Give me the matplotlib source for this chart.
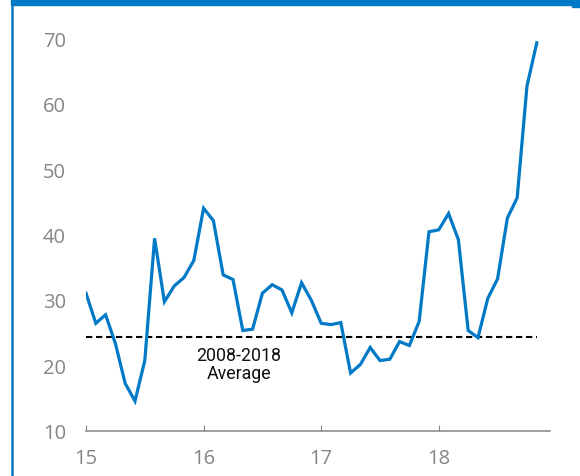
import matplotlib
matplotlib.use("Agg")
import matplotlib.pyplot as plt
from matplotlib.patches import Rectangle
from matplotlib.lines import Line2D

# Monthly index readings, Jan 2015 onwards
values = [31.0, 26.4, 27.7, 23.3, 17.2, 14.5, 20.7, 39.4, 29.7, 32.1,
          33.4, 36.0, 44.0, 42.1, 33.8, 33.1, 25.3, 25.5, 31.0, 32.3,
          31.5, 28.0, 32.6, 29.9, 26.4, 26.2, 26.5, 18.8, 20.1, 22.7,
          20.7, 20.9, 23.6, 23.0, 26.7, 40.4, 40.7, 43.2, 39.2, 25.3,
          24.2, 30.2, 33.2, 42.5, 45.6, 62.7, 69.3]
months = list(range(len(values)))
average = 24.35
year_ticks = [0, 12, 24, 36]
year_labels = ["15", "16", "17", "18"]
y_ticks = [10, 20, 30, 40, 50, 60, 70]

BLUE = "#0079C6"
GREY = "#858585"

fig = plt.figure(figsize=(5.8, 4.77), dpi=100)
ax = fig.add_axes([86 / 580, (477 - 431.5) / 477, 464 / 580, 62 * 6.537 / 477])

ax.plot(months, values, color=BLUE, lw=2.3, solid_joinstyle="miter", zorder=3)
ax.plot([months[0], months[-1]], [average, average], color="black", lw=1.5,
        dashes=(3.0, 1.8), zorder=2)
ax.text(15.6, average - 1.5, "2008-2018\nAverage", ha="center", va="top",
        fontsize=12.8, family="Roboto", linespacing=1.0, color="#111111")

ax.set_xlim(0, 47.35)
ax.set_ylim(10, 72)
ax.set_xticks(year_ticks)
ax.set_xticklabels(year_labels)
ax.set_yticks(y_ticks)
ax.set_yticklabels([str(v) for v in y_ticks])

for side in ("top", "right", "left"):
    ax.spines[side].set_visible(False)
ax.spines["bottom"].set_color(GREY)
ax.spines["bottom"].set_linewidth(1.1)
ax.tick_params(axis="x", direction="in", length=4, width=0.8, color=GREY,
               labelcolor=GREY, labelsize=14.5, pad=12.5)
ax.tick_params(axis="y", length=0, labelcolor=GREY, labelsize=14.5, pad=14.5)
for lab in ax.get_xticklabels() + ax.get_yticklabels():
    lab.set_family("Open Sans")

# Frame accents: top band and left rule
fig.patches.append(Rectangle((11 / 580, 1 - 6 / 477), 569 / 580, 6 / 477,
                             transform=fig.transFigure, color=BLUE, zorder=5))
fig.patches.append(Rectangle((572 / 580, 1 - 7.5 / 477), 8 / 580, 7.5 / 477,
                             transform=fig.transFigure, color=BLUE, zorder=5))
fig.lines.append(Line2D([12.2 / 580, 12.2 / 580], [0, 1], transform=fig.transFigure,
                        color=BLUE, lw=1.8, zorder=5))

fig.savefig("out.png", dpi=100)
